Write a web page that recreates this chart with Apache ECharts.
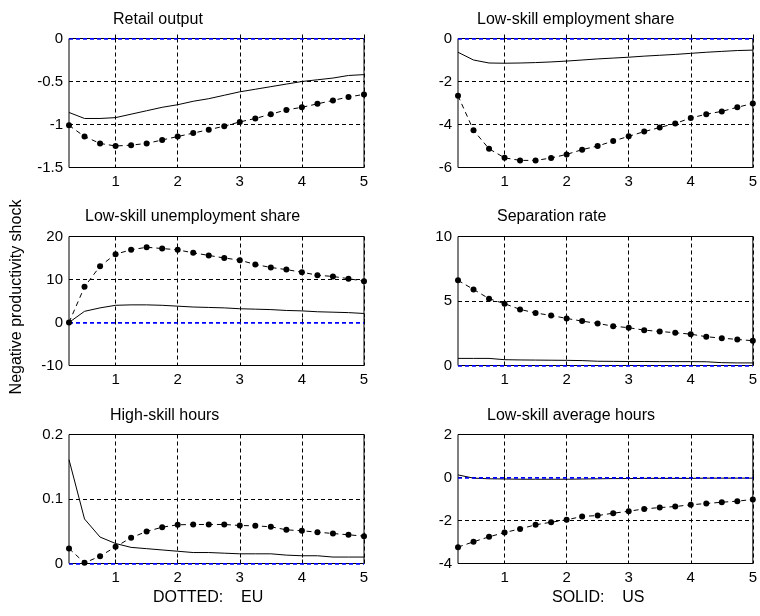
<!DOCTYPE html>
<html>
<head>
<meta charset="utf-8">
<script src="https://cdn.jsdelivr.net/npm/echarts@6/dist/echarts.min.js"></script>
<style>
html, body { margin: 0; padding: 0; background: #fff; }
#chart { width: 760px; height: 616px; }
</style>
</head>
<body>
<div id="chart"></div>
<script>
// horizon in years (quarterly steps)
var horizon = [0.25, 0.5, 0.75, 1, 1.25, 1.5, 1.75, 2, 2.25, 2.5, 2.75, 3, 3.25, 3.5, 3.75, 4, 4.25, 4.5, 4.75, 5];
var xTicks = [1, 2, 3, 4, 5];

var retailEU = [-1.01, -1.14, -1.22, -1.25, -1.24, -1.22, -1.18, -1.14, -1.1, -1.06, -1.02, -0.97, -0.93, -0.88, -0.83, -0.8, -0.76, -0.72, -0.68, -0.65];
var retailUS = [-0.86, -0.93, -0.93, -0.92, -0.88, -0.84, -0.8, -0.77, -0.73, -0.7, -0.66, -0.62, -0.59, -0.56, -0.53, -0.5, -0.48, -0.46, -0.43, -0.42];

var empEU = [-2.66, -4.27, -5.13, -5.55, -5.67, -5.67, -5.56, -5.39, -5.17, -5.0, -4.77, -4.55, -4.33, -4.14, -3.95, -3.7, -3.52, -3.39, -3.2, -3.02];
var empUS = [-0.64, -1.0, -1.14, -1.15, -1.14, -1.12, -1.09, -1.05, -1.0, -0.95, -0.91, -0.87, -0.82, -0.78, -0.74, -0.69, -0.64, -0.6, -0.56, -0.54];

var unempEU = [0, 8.3, 13.1, 15.9, 16.9, 17.5, 17.2, 16.9, 16.2, 15.6, 15.0, 14.5, 13.5, 12.8, 12.3, 11.7, 11.0, 10.7, 10.2, 9.6];
var unempUS = [0, 2.6, 3.4, 4.0, 4.1, 4.1, 4.0, 3.8, 3.6, 3.5, 3.4, 3.2, 3.1, 3.0, 2.8, 2.7, 2.5, 2.4, 2.3, 2.1];

var sepEU = [6.6, 5.9, 5.18, 4.79, 4.35, 4.07, 3.88, 3.65, 3.44, 3.26, 3.05, 2.93, 2.74, 2.64, 2.54, 2.43, 2.23, 2.12, 2.02, 1.92];
var sepUS = [0.55, 0.55, 0.55, 0.45, 0.43, 0.42, 0.41, 0.4, 0.38, 0.33, 0.32, 0.31, 0.31, 0.3, 0.3, 0.3, 0.29, 0.22, 0.2, 0.2];

var hiHoursEU = [0.0233, 0.001, 0.0113, 0.0259, 0.04, 0.0496, 0.0563, 0.06, 0.0605, 0.0605, 0.0605, 0.0589, 0.0584, 0.0569, 0.0522, 0.0507, 0.0486, 0.0465, 0.0445, 0.0424];
var hiHoursUS = [0.161, 0.069, 0.041, 0.031, 0.025, 0.023, 0.021, 0.019, 0.017, 0.017, 0.016, 0.015, 0.015, 0.015, 0.013, 0.012, 0.012, 0.01, 0.01, 0.01];

var loHoursEU = [-3.24, -2.99, -2.76, -2.56, -2.39, -2.2, -2.08, -1.97, -1.81, -1.77, -1.66, -1.57, -1.46, -1.4, -1.35, -1.27, -1.21, -1.15, -1.1, -1.02];
var loHoursUS = [0.12, -0.03, -0.06, -0.07, -0.08, -0.08, -0.08, -0.08, -0.07, -0.06, -0.05, -0.05, -0.04, -0.04, -0.04, -0.04, -0.03, -0.03, -0.03, -0.03];

var titles = ["Retail output", "Low-skill employment share", "Low-skill unemployment share", "Separation rate", "High-skill hours", "Low-skill average hours"];
var yMin = [-1.5, -6, -10, 0, 0, -4];
var yMax = [0, 0, 20, 10, 0.2, 2];
var yStep = [0.5, 2, 10, 5, 0.1, 2];
var euData = [retailEU, empEU, unempEU, sepEU, hiHoursEU, loHoursEU];
var usData = [retailUS, empUS, unempUS, sepUS, hiHoursUS, loHoursUS];

var font = "'Liberation Sans', Arial, sans-serif";
var panels = [
  { left: 69, top: 38.5, title: [113, 12] },
  { left: 458, top: 38.5, title: [477, 12] },
  { left: 69, top: 236.5, title: [85, 209] },
  { left: 458, top: 236.5, title: [497, 209] },
  { left: 69, top: 434.5, title: [110, 408] },
  { left: 458, top: 434.5, title: [487, 408] }
];
var gridDash = [4, 3];

function pairs(ys) {
  return horizon.map(function (x, i) { return [x, ys[i]]; });
}

// split line colours: black everywhere, blue on the zero line
function splitColors(i) {
  var n = Math.round((yMax[i] - yMin[i]) / yStep[i]) + 1;
  var zeroIdx = Math.round((0 - yMin[i]) / yStep[i]);
  var cols = [];
  for (var k = 0; k < n; k++) cols.push(k === zeroIdx ? "#0000ff" : "#000");
  return cols;
}

var grids = [], xAxes = [], yAxes = [], series = [], titleList = [];
panels.forEach(function (p, i) {
  grids.push({ left: p.left, top: p.top, width: 295, height: 129, show: true, borderColor: "#000", borderWidth: 1, backgroundColor: "#fff" });
  titleList.push({ text: titles[i], left: p.title[0], top: p.title[1], padding: 0,
    textStyle: { fontFamily: font, fontSize: 16, fontWeight: "normal", color: "#000" } });
  xAxes.push({
    gridIndex: i, type: "value", min: 0.25, max: 5,
    axisLine: { show: false },
    axisTick: { show: true, inside: true, length: 4, lineStyle: { color: "#000" }, customValues: xTicks },
    axisLabel: { color: "#000", fontFamily: font, fontSize: 15, margin: 7, customValues: xTicks },
    splitLine: { show: true, lineStyle: { color: "#000", type: gridDash, width: 1 } }
  });
  yAxes.push({
    gridIndex: i, type: "value", min: yMin[i], max: yMax[i], interval: yStep[i],
    axisLine: { show: false },
    axisTick: { show: true, inside: true, length: 4, lineStyle: { color: "#000" } },
    axisLabel: { color: "#000", fontFamily: font, fontSize: 15, margin: 6 },
    splitLine: { show: true, lineStyle: { color: splitColors(i), type: gridDash, width: 1 } }
  });
  series.push({
    type: "line", xAxisIndex: i, yAxisIndex: i, data: pairs(usData[i]),
    symbol: "none", silent: true,
    lineStyle: { color: "#000", width: 1 },
    z: 3
  });
  // blue zero reference line, kept above the frame and the solid line
  series.push({
    type: "line", xAxisIndex: i, yAxisIndex: i, data: [],
    clip: false, silent: true, z: 5,
    markLine: {
      silent: true, symbol: "none", label: { show: false }, animation: false,
      lineStyle: { color: "#0000ff", type: gridDash, width: 1.5 },
      data: [{ yAxis: 0 }]
    }
  });
  series.push({
    type: "line", xAxisIndex: i, yAxisIndex: i, data: pairs(euData[i]),
    symbol: "circle", symbolSize: 6, silent: true,
    itemStyle: { color: "#000" },
    lineStyle: { color: "#000", width: 1, type: [5, 4] },
    z: 6
  });
});

var chart = echarts.init(document.getElementById("chart"), null, { renderer: "canvas" });
chart.setOption({
  animation: false,
  backgroundColor: "#fff",
  title: titleList,
  grid: grids,
  xAxis: xAxes,
  yAxis: yAxes,
  series: series,
  graphic: [
    { type: "text", x: 17, y: 297, rotation: Math.PI / 2,
      style: { text: "Negative productivity shock", fontFamily: font, fontSize: 16, fill: "#000", align: "center", verticalAlign: "middle" } },
    { type: "text", x: 153, y: 598,
      style: { text: "DOTTED:    EU", fontFamily: font, fontSize: 16, fill: "#000", align: "left", verticalAlign: "middle" } },
    { type: "text", x: 552, y: 598,
      style: { text: "SOLID:    US", fontFamily: font, fontSize: 16, fill: "#000", align: "left", verticalAlign: "middle" } }
  ]
});
window.addEventListener("resize", function () { chart.resize(); });
</script>
</body>
</html>
